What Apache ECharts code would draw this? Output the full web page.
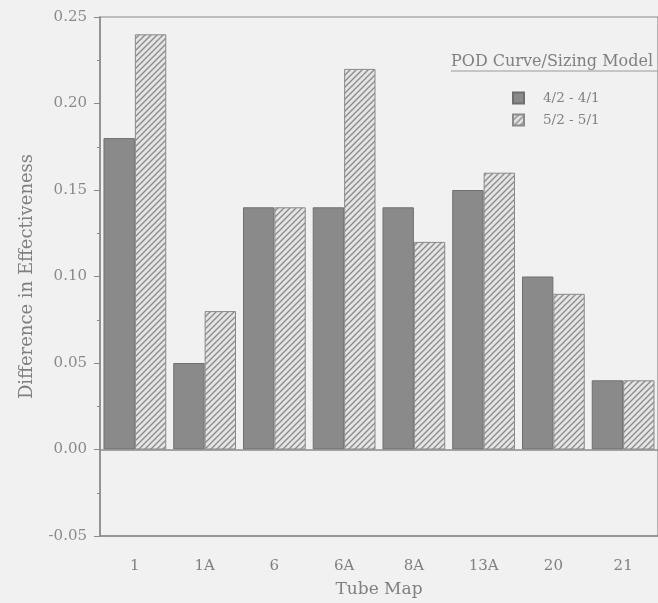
<!DOCTYPE html>
<html>
<head>
<meta charset="utf-8">
<script src="https://cdn.jsdelivr.net/npm/echarts@6/dist/echarts.min.js"></script>
<style>html,body{margin:0;padding:0;background:#f1f1f1;}#c{width:658px;height:603px;}</style>
</head>
<body>
<div id="c"></div>
<script>
var categories = ['1', '1A', '6', '6A', '8A', '13A', '20', '21'];
var series42 = [0.18, 0.05, 0.14, 0.14, 0.14, 0.15, 0.10, 0.04];
var series52 = [0.24, 0.08, 0.14, 0.22, 0.12, 0.16, 0.09, 0.04];
var seriesNames = ['4/2 - 4/1', '5/2 - 5/1'];
var legendTitle = 'POD Curve/Sizing Model';

function hatch() {
  var s = 6;
  var cv = document.createElement('canvas');
  cv.width = s; cv.height = s;
  var g = cv.getContext('2d');
  g.fillStyle = '#e4e4e4';
  g.fillRect(0, 0, s, s);
  g.strokeStyle = '#8a8a8a';
  g.lineWidth = 1.3;
  g.beginPath();
  g.moveTo(0, s); g.lineTo(s, 0);
  g.moveTo(-1, 1); g.lineTo(1, -1);
  g.moveTo(s - 1, s + 1); g.lineTo(s + 1, s - 1);
  g.stroke();
  return cv;
}

var font = '"DejaVu Serif", "Liberation Serif", serif';
var chart = echarts.init(document.getElementById('c'));
chart.setOption({
  backgroundColor: '#f1f1f1',
  animation: false,
  textStyle: { fontFamily: font },
  grid: { left: 100, top: 17, width: 562, bottom: 66, show: true, borderColor: '#8a8a8a', borderWidth: 1.2, backgroundColor: 'transparent' },
  legend: {
    orient: 'vertical', left: 512, top: 91, padding: 0, icon: 'rect', itemWidth: 11, itemHeight: 11, itemGap: 8,
    textStyle: { fontFamily: font, fontSize: 13.5, color: '#808080', lineHeight: 14, padding: [0, 0, 0, 14] },
    data: seriesNames
  },
  graphic: [
    { type: 'text', left: 451, top: 54, style: { text: legendTitle, font: '16px ' + font, fill: '#808080' } },
    { type: 'line', shape: { x1: 451, y1: 71, x2: 658, y2: 71 }, style: { stroke: '#9a9a9a', lineWidth: 1 } }
  ],
  xAxis: {
    type: 'category', data: categories,
    name: 'Tube Map', nameLocation: 'middle', nameGap: 45,
    nameTextStyle: { fontFamily: font, fontSize: 17, color: '#808080' },
    axisLine: { onZero: false, lineStyle: { color: '#8a8a8a', width: 1.5 } },
    axisTick: { show: false },
    axisLabel: { margin: 23, fontFamily: font, fontSize: 15, color: '#808080' }
  },
  yAxis: {
    type: 'value', min: -0.05, max: 0.25, interval: 0.05,
    name: 'Difference in Effectiveness', nameLocation: 'middle', nameGap: 64,
    nameTextStyle: { fontFamily: font, fontSize: 18, color: '#808080' },
    axisLine: { show: true, lineStyle: { color: '#8a8a8a', width: 1.5 } },
    axisTick: { show: true, inside: false, length: 6, lineStyle: { color: '#8a8a8a' } },
    minorTick: { show: true, splitNumber: 2, length: 3, lineStyle: { color: '#8a8a8a' } },
    splitLine: { show: false },
    axisLabel: { margin: 13, fontFamily: font, fontSize: 15, color: '#8a8a8a', formatter: function (v) { return v.toFixed(2); } }
  },
  series: [
    {
      name: seriesNames[0], type: 'bar', data: series42, barGap: '0%', barCategoryGap: '10%',
      itemStyle: { color: '#8a8a8a', borderColor: '#6f6f6f', borderWidth: 1 },
      markLine: {
        silent: true, symbol: 'none', label: { show: false },
        lineStyle: { color: '#8a8a8a', width: 1.5, type: 'solid' },
        data: [{ yAxis: 0 }]
      }
    },
    {
      name: seriesNames[1], type: 'bar', data: series52,
      itemStyle: { color: { image: hatch(), repeat: 'repeat' }, borderColor: '#8a8a8a', borderWidth: 1 }
    }
  ]
});
</script>
</body>
</html>
